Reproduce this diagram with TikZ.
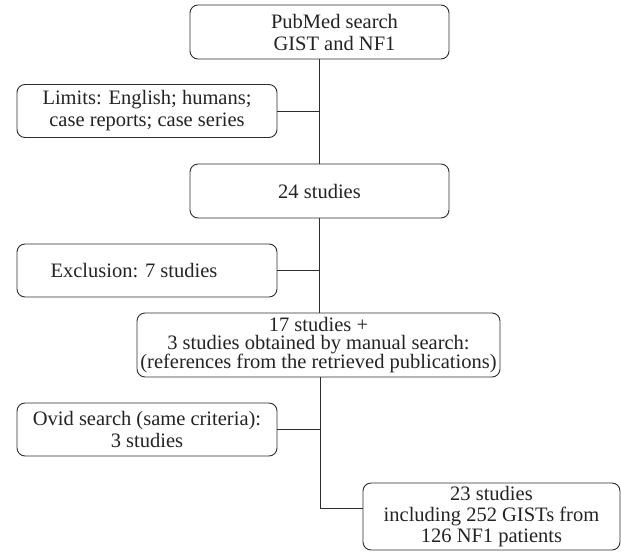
\documentclass[tikz,border=0pt]{standalone}
\usepackage{fontspec}
\setmainfont{Liberation Serif}
\usepackage{tikz}
\definecolor{ColLine}{RGB}{45,45,45}
\definecolor{ColText}{RGB}{35,35,35}
\tikzstyle{BoxFlow}=[draw=ColLine,rounded corners=8pt,line width=0.9pt,align=center,
inner sep=0pt,text=ColText,font=\fontsize{20.5}{22}\selectfont]
\tikzstyle{BoxMain}=[BoxFlow,minimum width=259pt,minimum height=54pt]
\tikzstyle{BoxSide}=[BoxFlow,minimum width=260pt,minimum height=53pt]
\tikzstyle{EdgeFlow}=[ColLine,line width=0.9pt]

\begin{document}
\begin{tikzpicture}[x=1pt,y=-1pt]
        \useasboundingbox(0,0)rectangle(621,552);
        \node[BoxMain](pubmed)at(319.5,32){\hspace*{30pt}PubMed search\\\hspace*{30pt}GIST and NF1};
        \node[BoxSide](limits)at(147,111){Limits: English; humans;\\case reports; case series};
        \node[BoxMain](found)at(319.5,191){24 studies};
        \node[BoxSide](excl)at(147,270.5){\hspace*{-26pt}Exclusion: 7 studies};
        \node[BoxFlow,minimum width=363pt,minimum height=64pt,font=\fontsize{20.5}{18}\selectfont]
            (merged)at(318.5,345){17 studies +\\3 studies obtained by manual search:\\(references from the retrieved publications)};
        \node[BoxSide](ovid)at(147,429.5){Ovid search (same criteria):\\3 studies};
        \node[BoxFlow,minimum width=257pt,minimum height=67pt,font=\fontsize{20.5}{21}\selectfont]
            (final)at(491.5,516.5){23 studies\\including 252 GISTs from\\126 NF1 patients};
        \coordinate(turn)at(320,508);
        \draw[EdgeFlow](pubmed)--(found);
        \draw[EdgeFlow](limits.east)--(limits.east-|pubmed.south);
        \draw[EdgeFlow](found.south)--(found.south|-merged.north);
        \draw[EdgeFlow](excl.east)--(excl.east-|found.south);
        \draw[EdgeFlow](merged.south-|turn)--(turn)--(turn-|final.west);
        \draw[EdgeFlow](ovid.east)--(ovid.east-|turn);
    \end{tikzpicture}
\end{document}
